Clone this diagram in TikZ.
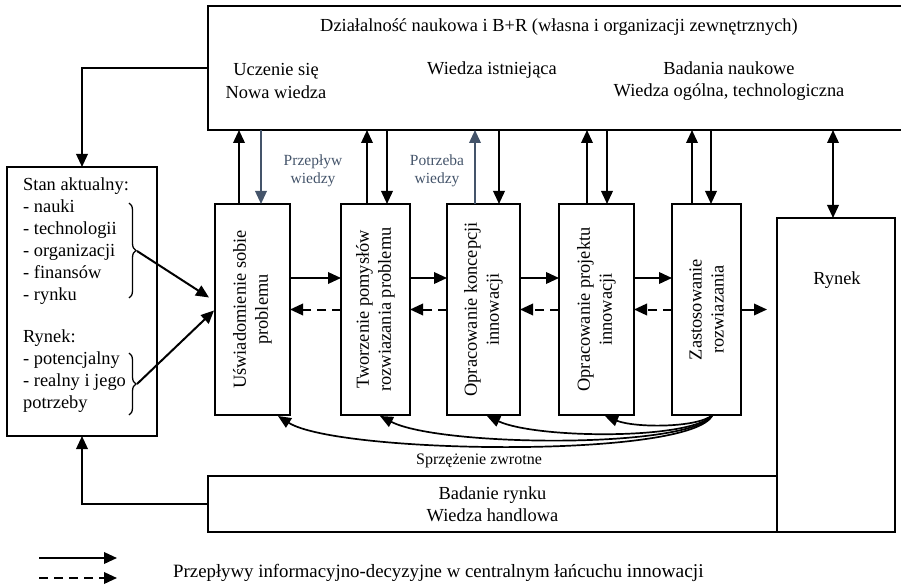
\documentclass[tikz,border=0pt]{standalone}
\usepackage{fontspec}
\setmainfont{Liberation Serif}
\usetikzlibrary{arrows.meta,calc,decorations.pathreplacing}
\definecolor{slate}{HTML}{44546A}
\begin{document}
\begin{tikzpicture}[x=1bp,y=-1bp,
  box/.style={draw, line width=1.5bp, inner sep=0pt, outer sep=0pt},
  arr/.style={line width=2bp, -{Triangle[length=13bp,width=11.5bp]}},
  farr/.style={line width=1.7bp, -{Triangle[length=13bp,width=11bp]}},
  darr/.style={arr, dash pattern=on 9bp off 6bp},
  barr/.style={line width=2bp, {Triangle[length=13bp,width=11.5bp]}-{Triangle[length=13bp,width=11.5bp]}},
  big/.style={font=\fontsize{18.4bp}{22bp}\selectfont},
  small/.style={font=\fontsize{15.5bp}{18bp}\selectfont},
  txt/.style={big, inner sep=0pt, align=center},
  ptext/.style={big, rotate=90, align=center, inner sep=0pt},
  brace/.style={line width=1.3bp, decorate, decoration={brace, amplitude=7bp}},
]
\useasboundingbox (0,0) rectangle (901,585);

% main boxes
\node[box, minimum width=697bp, minimum height=124bp] (top) at (556.5,68) {};
\node[box, minimum width=150bp, minimum height=269bp] (stan) at (82,301.5) {};
\node[box, minimum width=118bp, minimum height=314bp] (rynek) at (836,375) {};
\node[box, minimum width=569bp, minimum height=56bp, big, align=center] (badanie) at (492.5,504) {Badanie rynku\\Wiedza handlowa};

% process boxes
\node[box, minimum width=75bp, minimum height=211bp] (b1) at (252.5,309.5) {};
\node[box, minimum width=69bp, minimum height=211bp] (b2) at (375.5,309.5) {};
\node[box, minimum width=73bp, minimum height=211bp] (b3) at (483.5,309.5) {};
\node[box, minimum width=75bp, minimum height=211bp] (b4) at (596.5,309.5) {};
\node[box, minimum width=69bp, minimum height=211bp] (b5) at (706.5,309.5) {};
\node[ptext] (t1) at (b1) {Uświadomienie sobie\\problemu};
\node[ptext] (t2) at (b2) {Tworzenie pomysłów\\rozwiazania problemu};
\node[ptext] (t3) at (b3) {Opracowanie koncepcji\\innowacji};
\node[ptext] (t4) at (b4) {Opracowanie projektu\\innowacji};
\node[ptext] (t5) at (b5) {Zastosowanie\\rozwiazania};

% texts in top box
\node[txt] (title) at (559,27) {Działalność naukowa i B+R (własna i organizacji zewnętrznych)};
\node[txt] (ucz) at (276,81) {Uczenie się\\Nowa wiedza};
\node[txt] (ist) at (492,70) {Wiedza istniejąca};
\node[txt] (bad) at (729,81) {Badania naukowe\\Wiedza ogólna, technologiczna};

% Rynek text
\node[txt] (rt) at (837,280) {Rynek};

% left box texts
\node[big, inner sep=0pt, align=left, anchor=west] (stant) at (23,241.5) {Stan aktualny:\\- nauki\\- technologii\\- organizacji\\- finansów\\- rynku};
\node[big, inner sep=0pt, align=left, anchor=west] (rynt) at (23,371) {Rynek:\\- potencjalny\\- realny i jego\\potrzeby};

% braces
\coordinate (br1a) at (129,203);
\coordinate (br1b) at (129,298);
\coordinate (br2a) at (129,353);
\coordinate (br2b) at (129,415);
\coordinate (tip1) at (137,251);
\coordinate (tip2) at (137,384);
\draw[brace] (br1a) -- (br1b);
\draw[brace] (br2a) -- (br2b);
\draw[arr] (tip1) -- ($(b1.west)+(-6,-12)$);
\draw[arr] (tip2) -- ($(b1.west)+(-1,1)$);

% left connectors
\draw[arr] (top.west) -| (stan.north);
\draw[arr] (badanie.west) -| (stan.south);

% vertical arrows to/from top box
\draw[arr] ([xshift=-13.5bp]b1.north) -- ([xshift=-13.5bp]b1.north |- top.south);
\draw[arr, slate] ([xshift=8.5bp]b1.north |- top.south) -- ([xshift=8.5bp]b1.north);
\draw[arr] ([xshift=-8.5bp]b2.north) -- ([xshift=-8.5bp]b2.north |- top.south);
\draw[arr] ([xshift=11.5bp]b2.north |- top.south) -- ([xshift=11.5bp]b2.north);
\draw[arr, slate] ([xshift=-8.5bp]b3.north) -- ([xshift=-8.5bp]b3.north |- top.south);
\draw[arr] ([xshift=15.5bp]b3.north |- top.south) -- ([xshift=15.5bp]b3.north);
\draw[arr] ([xshift=-9.5bp]b4.north) -- ([xshift=-9.5bp]b4.north |- top.south);
\draw[arr] ([xshift=10.5bp]b4.north |- top.south) -- ([xshift=10.5bp]b4.north);
\draw[arr] ([xshift=-14.5bp]b5.north) -- ([xshift=-14.5bp]b5.north |- top.south);
\draw[arr] ([xshift=4.5bp]b5.north |- top.south) -- ([xshift=4.5bp]b5.north);
\draw[barr] ([xshift=-3bp]rynek.north) -- ([xshift=-3bp]rynek.north |- top.south);

% blue labels
\node[small, text=slate, align=center, inner sep=0pt] (lab1) at (313,171) {Przepływ\\wiedzy};
\node[small, text=slate, align=center, inner sep=0pt] (lab2) at (437,171) {Potrzeba\\wiedzy};

% horizontal arrows
\draw[arr] ($(b1.east)+(0,-31.5)$) -- ($(b2.west)+(0,-31.5)$);
\draw[arr] ($(b2.east)+(0,-31.5)$) -- ($(b3.west)+(0,-31.5)$);
\draw[arr] ($(b3.east)+(0,-31.5)$) -- ($(b4.west)+(0,-31.5)$);
\draw[arr] ($(b4.east)+(0,-31.5)$) -- ($(b5.west)+(0,-31.5)$);
\draw[darr] (b2.west) -- (b1.east);
\draw[darr] (b3.west) -- (b2.east);
\draw[darr] (b4.west) -- (b3.east);
\draw[darr] (b5.west) -- (b4.east);
\draw[arr] (b5.east) -- ([xshift=-10bp]rynek.west |- b5.east);

% feedback curves
\coordinate (fs) at ($(b5.south)+(6,0)$);
\draw[farr] (fs) .. controls +(-20,44) and +(60,38) .. ($(b1.south)+(25.5,1)$);
\draw[farr] (fs) .. controls +(-20,34) and +(60,31) .. ($(b2.south)+(4.5,1)$);
\draw[farr] (fs) .. controls +(-20,25) and +(50,23) .. ($(b3.south)+(3.5,1)$);
\draw[farr] (fs) .. controls +(-15,13) and +(30,12) .. ($(b4.south)+(8.5,1)$);
\node[inner sep=0pt, font=\fontsize{16bp}{18bp}\selectfont] (sprz) at (479,461) {Sprzężenie zwrotne};

% legend
\coordinate (l1a) at (39,558);
\coordinate (l1b) at (117,558);
\coordinate (l2a) at (39,578);
\coordinate (l2b) at (117,578);
\draw[arr] (l1a) -- (l1b);
\draw[darr] (l2a) -- (l2b);
\node[anchor=west, inner sep=0pt] (leg) at (173,573) {\fontsize{18.8bp}{20bp}\selectfont Przepływy informacyjno-decyzyjne w centralnym łańcuchu {\fontsize{19.5bp}{22bp}\selectfont innowacji}};
\end{tikzpicture}
\end{document}
